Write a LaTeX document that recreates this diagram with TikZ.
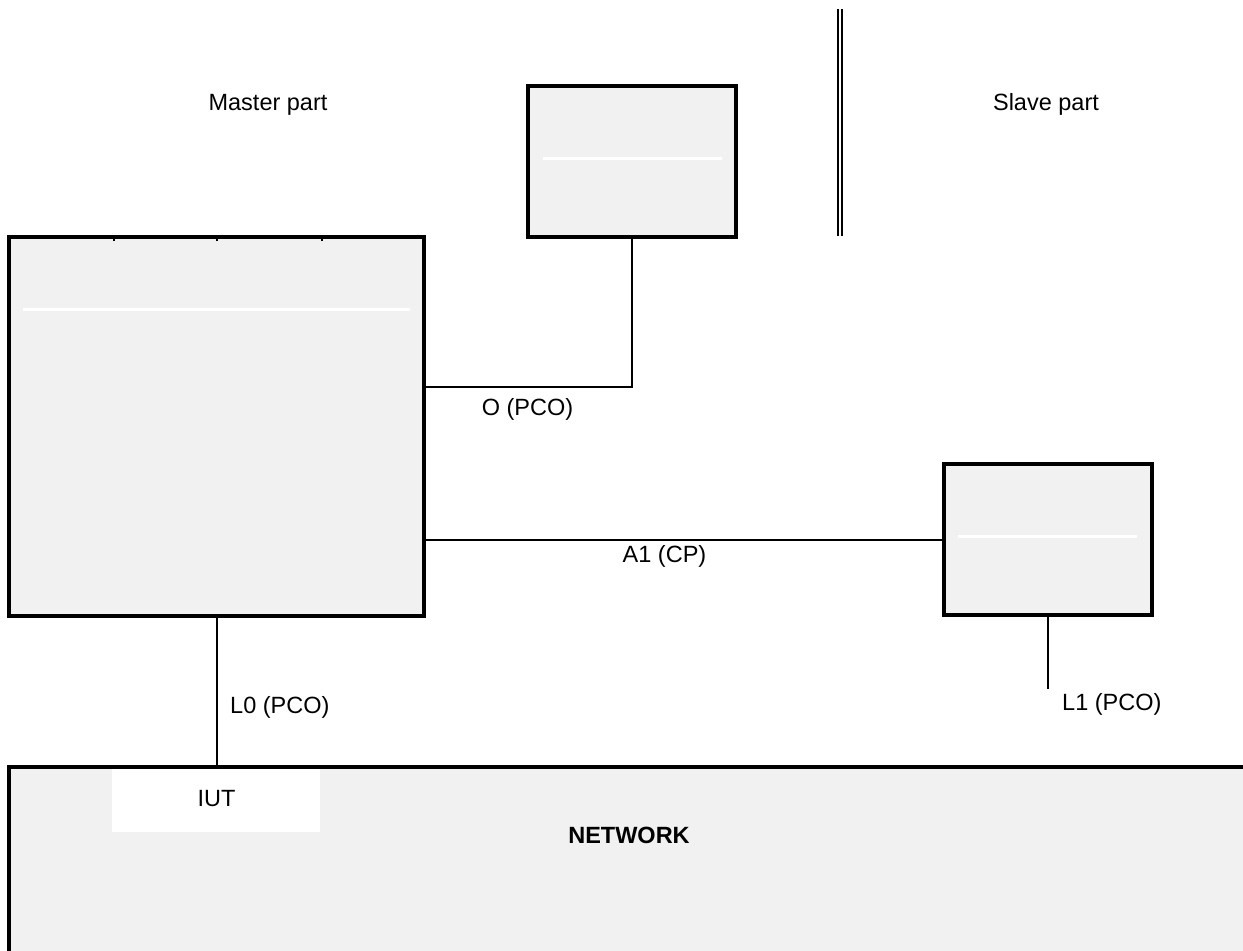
\documentclass[tikz,border=0pt]{standalone}
\usepackage{fontspec}
\setmainfont{Liberation Sans}
\definecolor{boxgray}{HTML}{F1F1F1}
\begin{document}
\begin{tikzpicture}[x=1pt,y=-1pt,
  every node/.style={font=\fontsize{23.5}{28}\selectfont},
  block/.style={draw=black,line width=4pt,fill=boxgray,rectangle,inner sep=0pt,outer sep=0pt},
  conn/.style={draw=black,line width=2pt},
  divider/.style={draw=white,line width=3pt},
  lbl/.style={anchor=base,inner sep=0pt}]
\useasboundingbox[fill=white] (0,0) rectangle (1243,951);

% network background (open on right and bottom)
\node[rectangle,fill=boxgray,inner sep=0pt,outer sep=0pt,minimum width=1260pt,minimum height=200pt,anchor=north west] (network) at (9,767) {};
\draw[line width=4pt] (network.south west) -- (network.north west) -- (network.north east);
\node[rectangle,fill=white,inner sep=0pt,minimum width=208pt,minimum height=63pt] (iut) at (216,800.5) {};
\node[lbl] (iuttext) at (216.5,806.7) {IUT};
\node[lbl,font=\fontsize{23.5}{28}\selectfont\bfseries] (nettext) at (629,843) {NETWORK};

% boxes
\node[block,minimum width=415pt,minimum height=379.5pt] (master) at (216.5,426.25) {};
\node[block,minimum width=208pt,minimum height=151pt] (topbox) at (632,161.5) {};
\node[block,minimum width=208pt,minimum height=151pt] (slave) at (1048,539.5) {};

% inner white dividers
\draw[divider] (23,309.5) -- (410,309.5);
\draw[divider] (543,158) -- (722,158);
\draw[divider] (958,536) -- (1137,536);

% ticks on master box top
\foreach \tx in {114,217,322} \draw[line width=2pt] (\tx,236) -- (\tx,240.5);

% double separator
\coordinate (sepA) at (838,9);
\coordinate (sepB) at (838,236);
\coordinate (sepC) at (842,9);
\coordinate (sepD) at (842,236);
\draw[line width=2.3pt] (sepA) -- (sepB);
\draw[line width=2.3pt] (sepC) -- (sepD);

% connectors
\coordinate (oturn) at (632,387);
\draw[conn] (topbox.south) -- (oturn) -- (master.east |- oturn);
\draw[conn] (master.east |- slave.west) -- (slave.west);
\draw[conn] (master.south) -- (master.south |- network.north);
\coordinate (l1end) at (1048,689);
\draw[conn] (slave.south) -- (l1end);

% labels
\node[lbl] (mp) at (268,110.7) {Master part};
\node[lbl] (sp) at (1046,110.7) {Slave part};
\node[lbl] (olbl) at (527.5,415) {O (PCO)};
\node[lbl] (albl) at (664.5,562.5) {A1 (CP)};
\node[lbl,anchor=base west] (l0lbl) at (230,713.3) {L0 (PCO)};
\node[lbl,anchor=base west] (l1lbl) at (1062,710) {L1 (PCO)};
\end{tikzpicture}
\end{document}
